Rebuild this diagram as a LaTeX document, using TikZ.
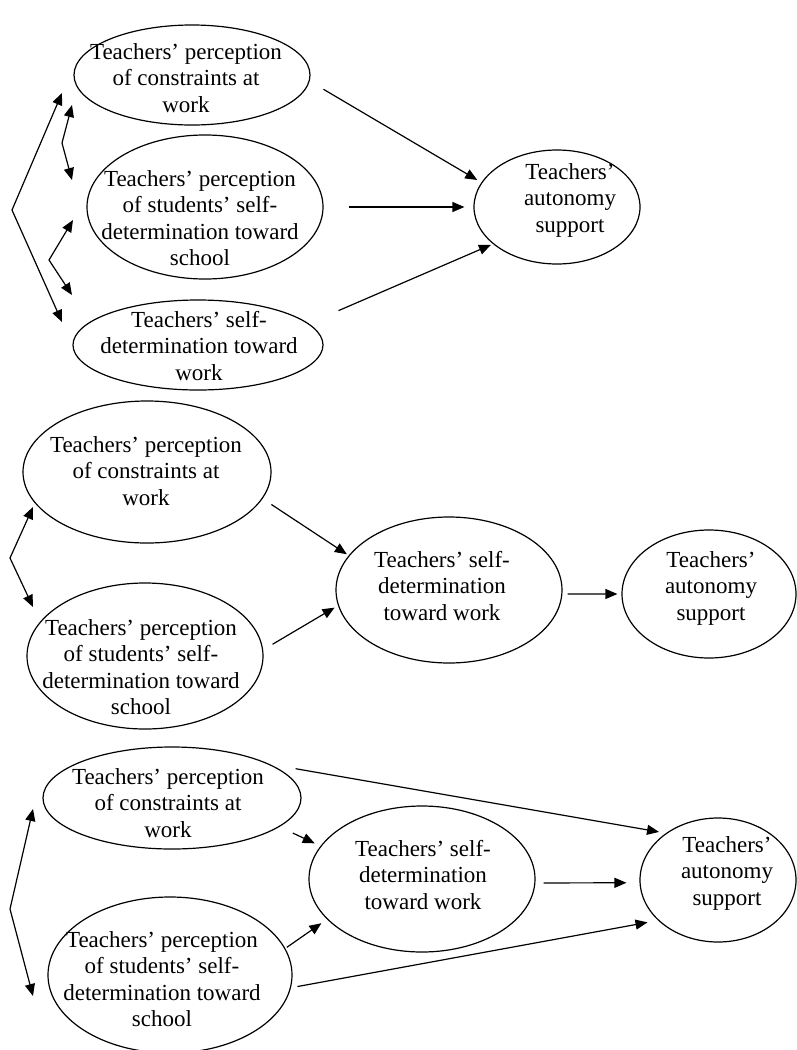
\documentclass[tikz,border=0pt]{standalone}
\usepackage{fontspec}
\setmainfont{Liberation Serif}
\usetikzlibrary{arrows.meta,shapes.geometric}
\begin{document}
\begin{tikzpicture}[x=1pt,y=-1pt,
  ell/.style={draw, ellipse, line width=1.2pt, inner sep=0pt},
  txt/.style={align=center, inner sep=0pt, font=\fontsize{23}{26.5}\selectfont},
  tip/.style={Triangle[length=12pt,width=10pt]},
  arr/.style={line width=1.2pt, -{Triangle[length=12pt,width=10pt]}},
  darr/.style={line width=1.2pt, {Triangle[length=12pt,width=10pt]}-{Triangle[length=12pt,width=10pt]}}]
\useasboundingbox (0,0) rectangle (796,1050);
% ---------- diagram 1
\node[ell, minimum width=236pt, minimum height=100pt] (a1) at (192,75) {};
\node[ell, minimum width=236pt, minimum height=144pt] (b1) at (205,207) {};
\node[ell, minimum width=250pt, minimum height=90pt] (c1) at (198,345) {};
\node[ell, minimum width=166pt, minimum height=114pt] (d1) at (557,207) {};
\node[txt] (a1t) at (186,78) {Teachers’ perception\\of constraints at\\work};
\node[txt] (b1t) at (200,218) {Teachers’ perception\\of students’ self-\\determination toward\\school};
\node[txt] (c1t) at (199,346) {Teachers’ self-\\determination toward\\work};
\node[txt] (d1t) at (570,200) {Teachers’\\autonomy\\support};
\draw[arr, shorten <=16pt, shorten >=4.8pt] (a1.-3) -- (d1.162);
\draw[arr, shorten <=25pt, shorten >=9pt] (b1.east) -- (d1.west);
\draw[arr, shorten <=32.4pt, shorten >=2.2pt] (c1.11) -- (d1.210);
\coordinate (p1a) at (62,93);  \coordinate (p1v) at (12,210);  \coordinate (p1b) at (62,322);
\coordinate (q1a) at (72,105); \coordinate (q1v) at (62,143);  \coordinate (q1b) at (72,180);
\coordinate (r1a) at (73,220); \coordinate (r1v) at (49,260);  \coordinate (r1b) at (72,295);
\draw[darr] (p1a) -- (p1v) -- (p1b);
\draw[darr] (q1a) -- (q1v) -- (q1b);
\draw[darr] (r1a) -- (r1v) -- (r1b);
% ---------- diagram 2
\node[ell, minimum width=248pt, minimum height=142pt] (a2) at (147,472) {};
\node[ell, minimum width=236pt, minimum height=146pt] (b2) at (145,656) {};
\node[ell, minimum width=226pt, minimum height=146pt] (c2) at (449,590) {};
\node[ell, minimum width=174pt, minimum height=128pt] (d2) at (709,594) {};
\node[txt] (a2t) at (146,471) {Teachers’ perception\\of constraints at\\work};
\node[txt] (b2t) at (141,667) {Teachers’ perception\\of students’ self-\\determination toward\\school};
\node[txt] (c2t) at (442,586) {Teachers’ self-\\determination\\toward work};
\node[txt] (d2t) at (711,588) {Teachers’\\autonomy\\support};
\draw[arr, shorten <=10.5pt, shorten >=2.2pt] (a2.-13) -- (c2.161);
\draw[arr, shorten <=10.9pt, shorten >=4pt] (b2.3) -- (c2.188);
\draw[arr, shorten <=5.2pt, shorten >=4pt] (c2.-2) -- (d2.west);
\coordinate (p2a) at (33,507); \coordinate (p2v) at (10,558); \coordinate (p2b) at (33,607);
\draw[darr] (p2a) -- (p2v) -- (p2b);
% ---------- diagram 3
\node[ell, minimum width=258pt, minimum height=102pt] (a3) at (172,798) {};
\node[ell, minimum width=244pt, minimum height=156pt] (b3) at (170,975) {};
\node[ell, minimum width=226pt, minimum height=146pt] (c3) at (422,879) {};
\node[ell, minimum width=156pt, minimum height=124pt] (d3) at (718,880) {};
\node[txt] (a3t) at (168,803) {Teachers’ perception\\of constraints at\\work};
\node[txt] (b3t) at (162,979) {Teachers’ perception\\of students’ self-\\determination toward\\school};
\node[txt] (c3t) at (423,875) {Teachers’ self-\\determination\\toward work};
\node[txt] (d3t) at (727,873) {Teachers’\\autonomy\\support};
\draw[arr, shorten <=26pt, shorten >=7pt] (a3.19) -- (d3.138);
\draw[arr, shorten <=14.7pt, shorten >=6.3pt] (a3.-15) -- (c3.162);
\draw[arr, shorten <=8.2pt, shorten >=13pt] (c3.-2) -- (d3.182);
\draw[arr, shorten <=1.8pt, shorten >=6.8pt] (b3.13) -- (c3.203);
\draw[arr, shorten <=6.6pt, shorten >=10.7pt] (b3.-6) -- (d3.214);
\coordinate (p3a) at (33,809); \coordinate (p3v) at (10,909); \coordinate (p3b) at (33,996);
\draw[darr] (p3a) -- (p3v) -- (p3b);
\end{tikzpicture}
\end{document}
